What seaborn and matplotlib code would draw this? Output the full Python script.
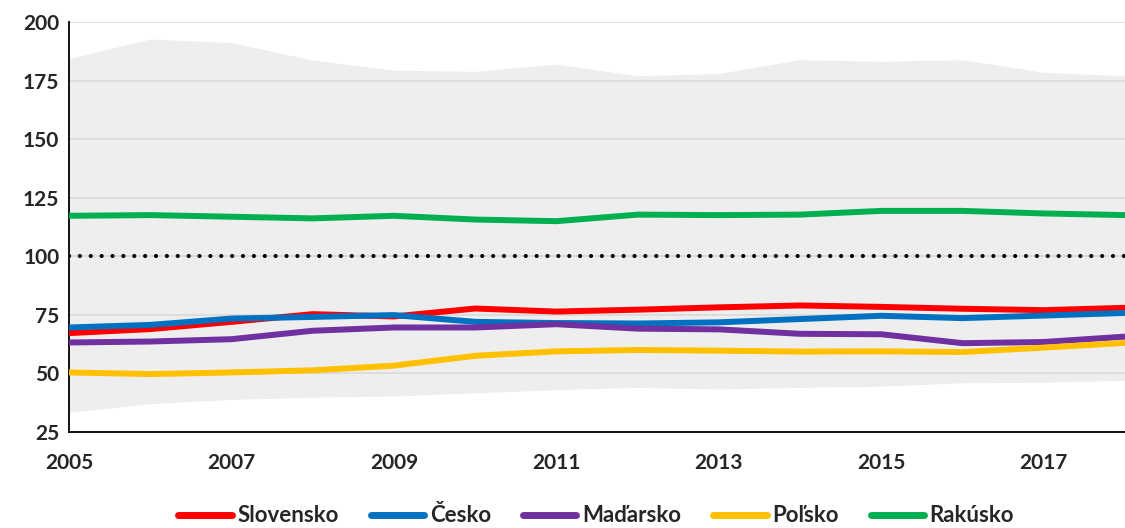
import matplotlib
matplotlib.use("Agg")
import matplotlib.pyplot as plt
import seaborn as sns
import pandas as pd

# roky a hodnoty (EU = 100)
years = list(range(2005, 2019))
slovensko = [67.2, 68.9, 72.0, 75.3, 74.3, 77.7, 76.4, 77.2, 78.2, 79.0, 78.4, 77.6, 77.0, 78.0]
cesko = [69.6, 70.7, 73.4, 74.1, 74.9, 72.0, 71.5, 71.3, 71.8, 73.2, 74.6, 73.6, 74.7, 75.8]
madarsko = [63.2, 63.6, 64.6, 68.2, 69.6, 69.6, 71.0, 69.1, 68.8, 66.9, 66.7, 62.9, 63.4, 65.7]
polsko = [50.4, 49.7, 50.4, 51.3, 53.3, 57.5, 59.4, 60.0, 59.7, 59.3, 59.4, 59.1, 61.0, 63.0]
rakusko = [117.3, 117.6, 116.9, 116.2, 117.3, 115.7, 115.0, 117.8, 117.6, 117.8, 119.4, 119.4, 118.3, 117.6]
# rozpätie EU (min - max)
eu_max = [184.5, 192.8, 191.3, 183.8, 179.5, 179.0, 182.1, 177.1, 178.1, 184.0, 183.3, 184.0, 178.6, 177.1]
eu_min = [33.3, 37.0, 38.9, 39.8, 40.3, 41.7, 43.0, 44.0, 43.3, 44.0, 44.5, 46.0, 46.2, 47.0]
eu_avg = [100] * len(years)

countries = ["Slovensko", "Česko", "Maďarsko", "Poľsko", "Rakúsko"]
colors = ["#ff0000", "#0070c0", "#7030a0", "#ffc000", "#00b050"]

df = pd.DataFrame({"rok": years, "Slovensko": slovensko, "Česko": cesko,
                   "Maďarsko": madarsko, "Poľsko": polsko, "Rakúsko": rakusko})
df_long = df.melt(id_vars="rok", var_name="krajina", value_name="hodnota")

sns.set_theme(style="white")
plt.rcParams["font.family"] = ["Lato", "DejaVu Sans"]

fig = plt.figure(figsize=(11.25, 5.28), dpi=100)
ax = fig.add_axes([0.0613, 0.182, 0.9387, 0.776])

ax.fill_between(years, eu_min, eu_max, color="#eeeeee", linewidth=0, zorder=0)
for yv in [25, 50, 75, 100, 125, 150, 175, 200]:
    ax.axhline(yv, color="#d9d9d9", linewidth=1.2, zorder=1)

ax.plot(years, eu_avg, color="black", linewidth=3,
        linestyle=(0, (0.01, 2.6)), dash_capstyle="round", zorder=2)

sns.lineplot(data=df_long, x="rok", y="hodnota", hue="krajina",
             hue_order=countries, palette=colors, linewidth=4.3,
             ax=ax, zorder=3, legend=False)
for line in ax.get_lines()[-5:]:
    line.set_solid_capstyle("butt")

ax.set_xlim(2005, 2018)
ax.set_ylim(25, 200)
ax.set_yticks([25, 50, 75, 100, 125, 150, 175, 200])
ax.set_xticks(list(range(2005, 2018, 2)))
ax.set_xlabel("")
ax.set_ylabel("")
ax.tick_params(axis="both", length=0, labelsize=15)
ax.tick_params(axis="x", pad=15)
ax.tick_params(axis="y", pad=7)
for lab in ax.get_xticklabels() + ax.get_yticklabels():
    lab.set_fontweight("bold")

for s in ["top", "right"]:
    ax.spines[s].set_visible(False)
ax.spines["left"].set_color("black")
ax.spines["bottom"].set_color("black")
ax.spines["left"].set_linewidth(1.3)
ax.spines["bottom"].set_linewidth(1.3)

handles = [plt.Line2D([0], [0], color=c, linewidth=5, solid_capstyle="round") for c in colors]
leg = fig.legend(handles, countries, loc="lower center", bbox_to_anchor=(0.53, -0.035),
                 ncol=5, frameon=False, handlelength=2.4, handletextpad=0.25,
                 columnspacing=1.45, prop={"weight": "bold", "size": 16})

fig.savefig("out.png", dpi=100)
